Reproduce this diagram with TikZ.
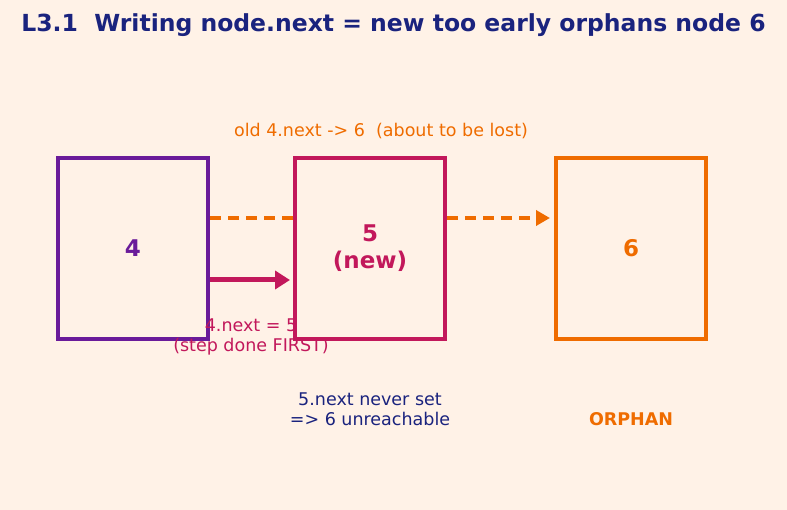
\documentclass[tikz,border=0pt]{standalone}
\usepackage{fontspec}
\setmainfont{DejaVu Sans}
\usepackage{xcolor}
\usetikzlibrary{arrows.meta, positioning, calc}
\definecolor{bgcol}{HTML}{FFF2E7}
\definecolor{navy}{HTML}{1A237E}
\definecolor{purp}{HTML}{6A1B9A}
\definecolor{crim}{HTML}{C2185B}
\definecolor{orng}{HTML}{EF6C00}
\tikzset{
    listbox/.style={draw=#1, text=#1, line width=4pt, fill=bgcol, minimum width=150pt, minimum height=181pt, inner sep=0pt, font=\bfseries\fontsize{23}{27}\selectfont, align=center},
    note/.style={font=\fontsize{17.5}{19.5}\selectfont, align=center}
}

\begin{document}
\begin{tikzpicture}[x=1pt, y=-1pt]
    % Sfondo
    \fill[bgcol] (0,0) rectangle (787,510);
    \useasboundingbox (0,0) rectangle (787,510);

    % Titolo
    \node[navy, font=\bfseries\fontsize{23.5}{26}\selectfont] (title) at (393.5,25) {L3.1\ \ Writing node.next = new too early orphans node 6};

    % Nodi della lista
    \node[listbox=purp] (n4) at (133,248.5) {4};
    \node[listbox=crim] (n5) at (370,248.5) {5\\(new)};
    \node[listbox=orng] (n6) at (631,248.5) {6};

    % Vecchio puntatore (tratteggiato)
    \draw[orng, line width=3.5pt, dash pattern=on 11pt off 7pt] (n4.east |- 0,218) -- (n5.west |- 0,218);
    \draw[orng, line width=3.5pt, dash pattern=on 11pt off 7pt, -{Triangle[length=14pt, width=15pt]}] (n5.east |- 0,218) -- ($(n6.west |- 0,218)+(-4,0)$);
    \node[note, orng] (oldlbl) at (381,131) {old 4.next -> 6\ \ (about to be lost)};

    % Nuovo puntatore
    \draw[crim, line width=5pt, -{Triangle[length=15pt, width=18pt]}] (n4.east |- 0,280) -- ($(n5.west |- 0,280)+(-3,0)$);
    \node[note, crim] (newlbl) at (251,337) {4.next = 5\\(step done FIRST)};

    % Note in basso
    \node[note, navy] (never) at (370,409) {5.next never set\\=> 6 unreachable};
    \node[orng, font=\bfseries\fontsize{17.5}{19.5}\selectfont] (orphan) at (631,419) {ORPHAN};
\end{tikzpicture}
\end{document}
